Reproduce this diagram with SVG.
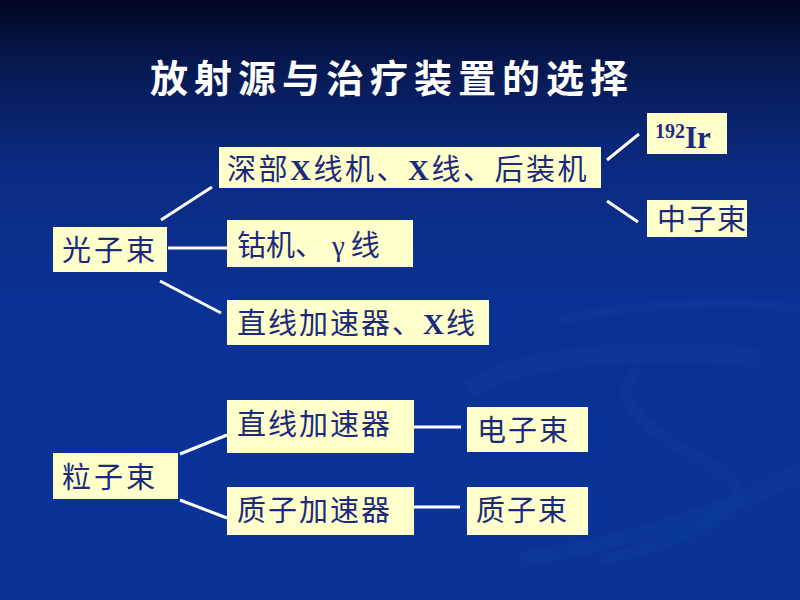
<svg xmlns="http://www.w3.org/2000/svg" width="800" height="600" viewBox="0 0 800 600">
<defs>
<linearGradient id="bg" x1="0" y1="0" x2="0" y2="1">
<stop offset="0" stop-color="#020722"/>
<stop offset="0.12" stop-color="#071a55"/>
<stop offset="0.28" stop-color="#0b2b82"/>
<stop offset="0.5" stop-color="#0a3294"/>
<stop offset="1" stop-color="#0a3399"/>
</linearGradient>
<style>
.box{fill:#ffffcc}
.t{font-family:"Noto Sans CJK SC","Liberation Serif",serif;font-size:29px;fill:#1b2a7c}
.x{font-family:"Liberation Serif",serif;font-weight:bold}
.c line{stroke:#ffffff;stroke-width:3;stroke-linecap:butt}
.sw{fill:none;stroke:#0e3aa0;stroke-opacity:0.45}
</style>
</defs>
<rect width="800" height="600" fill="url(#bg)"/>
<g id="swoosh">
<path class="sw" stroke-width="20" d="M470 390 C 520 350, 700 345, 760 360"/>
<path class="sw" stroke-width="12" d="M640 370 C 600 400, 660 440, 720 470 C 770 500, 700 540, 600 560"/>
<path class="sw" stroke-width="16" d="M520 560 C 640 540, 760 500, 800 470"/>
<path class="sw" stroke-width="9" d="M560 320 C 650 300, 760 300, 800 310"/>
</g>
<text x="150" y="92" font-family="Noto Sans CJK SC, sans-serif" font-size="38" font-weight="bold" fill="#ffffff" letter-spacing="6">放射源与治疗装置的选择</text>
<g class="c">
<line x1="161" y1="220" x2="212" y2="187"/>
<line x1="168" y1="248" x2="227" y2="248"/>
<line x1="160" y1="281" x2="221" y2="313"/>
<line x1="607" y1="160" x2="639" y2="134"/>
<line x1="607" y1="201" x2="638" y2="222"/>
<line x1="180" y1="454" x2="227" y2="435"/>
<line x1="180" y1="500" x2="227" y2="518"/>
<line x1="414" y1="427" x2="461" y2="427"/>
<line x1="414" y1="507" x2="460" y2="507"/>
</g>
<g id="n-guangzishu"><rect class="box" x="53" y="227" width="114" height="45"/><text class="t" x="62" y="261" letter-spacing="3">光子束</text></g>
<g id="n-shenbu"><rect class="box" x="219" y="147" width="382" height="41"/><text class="t" x="227" y="180" letter-spacing="2.5">深部<tspan class="x">X</tspan>线机、<tspan class="x">X</tspan>线、后装机</text></g>
<g id="n-guji"><rect class="box" x="227" y="220" width="186" height="47"/><text class="t" x="237" y="256">钴机、<tspan font-family="Liberation Serif, serif" dx="8">γ</tspan><tspan dx="6">线</tspan></text></g>
<g id="n-zhixian1"><rect class="box" x="227" y="300" width="262" height="45"/><text class="t" x="237" y="334" letter-spacing="2">直线加速器、<tspan class="x">X</tspan>线</text></g>
<g id="n-ir"><rect class="box" x="647" y="113" width="80" height="41"/><text font-family="Liberation Serif, serif" font-weight="bold" fill="#1b2a7c" x="655" y="148"><tspan font-size="20" dy="-10">192</tspan><tspan font-size="31" dy="10">Ir</tspan></text></g>
<g id="n-zhongzi"><rect class="box" x="647" y="200" width="100" height="37"/><text class="t" x="657" y="230" font-size="27" letter-spacing="1">中子束</text></g>
<g id="n-lizishu"><rect class="box" x="53" y="453" width="125" height="46"/><text class="t" x="62" y="488" letter-spacing="3">粒子束</text></g>
<g id="n-zhixian2"><rect class="box" x="227" y="400" width="187" height="53"/><text class="t" x="237" y="435" letter-spacing="2">直线加速器</text></g>
<g id="n-zhizi"><rect class="box" x="227" y="487" width="187" height="48"/><text class="t" x="237" y="521" letter-spacing="2">质子加速器</text></g>
<g id="n-dianzishu"><rect class="box" x="467" y="407" width="121" height="45"/><text class="t" x="477" y="441" letter-spacing="2">电子束</text></g>
<g id="n-zhizishu"><rect class="box" x="467" y="487" width="121" height="48"/><text class="t" x="476" y="521" letter-spacing="2">质子束</text></g>
</svg>
